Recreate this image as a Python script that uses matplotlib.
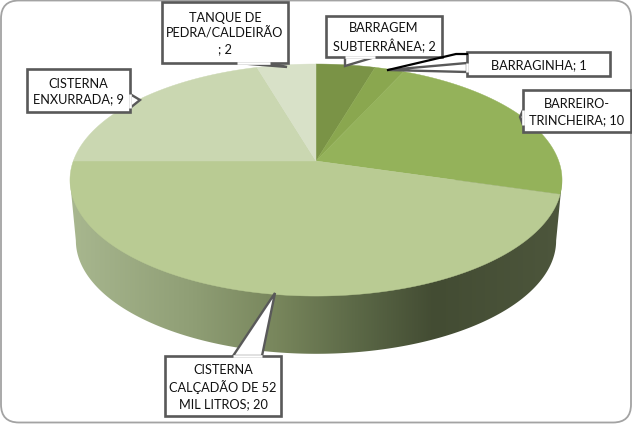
import numpy as np
import matplotlib
matplotlib.use("Agg")
import matplotlib.pyplot as plt
from matplotlib.patches import Polygon, FancyBboxPatch
from matplotlib.colors import LinearSegmentedColormap

categories = ["BARRAGEM\nSUBTERRÂNEA", "BARRAGINHA", "BARREIRO-\nTRINCHEIRA",
              "CISTERNA\nCALÇADÃO DE 52\nMIL LITROS", "CISTERNA\nENXURRADA",
              "TANQUE DE\nPEDRA/CALDEIRÃO\n"]
values = [2, 1, 10, 20, 9, 2]
colors = ["#7a9346", "#8aa74f", "#94b25a", "#b9cb93", "#cad7b1", "#d8e1c8"]
FONT = "Lato"
FS = 9.2

CX, CY = 316, 161
A, B, K = 112.9, 242.7, 0.164
S, LOWER = 0.976, 222


def project(t, scale=1.0, yc=CY):
    X, Y = np.sin(t), np.cos(t)
    w = 1 + K * Y
    return CX + B * scale * X / w, yc - A * scale * Y / w


fig = plt.figure(figsize=(6.32, 4.24), dpi=100)
ax = fig.add_axes([0, 0, 1, 1])
ax.set_xlim(0, 632)
ax.set_ylim(424, 0)
ax.axis("off")

border = FancyBboxPatch((1, 0.5), 630, 422, boxstyle="round,pad=0,rounding_size=18",
                        fc="white", ec="#a3a3a3", lw=1.3, zorder=0)
ax.add_patch(border)

# side wall
tt = np.linspace(0, 2 * np.pi, 721)
x_top, y_top = project(tt)
i_r, i_l = np.argmax(x_top), np.argmin(x_top)
x_low, y_low = project(tt, S, LOWER)
j_r, j_l = np.argmax(x_low), np.argmin(x_low)
rx = np.r_[x_top[i_r], x_low[j_r:j_l + 1], x_top[i_l]]
ry = np.r_[y_top[i_r], y_low[j_r:j_l + 1], y_top[i_l]]
wall = Polygon(np.c_[rx, ry], closed=True, fc="none", ec="none")
ax.add_patch(wall)
cmap = LinearSegmentedColormap.from_list(
    "wall", [(0, "#a8b78f"), (0.25, "#8f9e75"), (0.42, "#78865c"), (0.58, "#5c6947"),
             (0.74, "#434c33"), (1, "#4d563c")])
im = ax.imshow(np.linspace(0, 1, 256)[None, :], cmap=cmap, extent=(70, 562, 424, 0),
               aspect="auto", zorder=1)
im.set_clip_path(wall)
ax.set_xlim(0, 632)
ax.set_ylim(424, 0)

# top slices, clockwise from 12 o'clock
edges = np.r_[0, np.cumsum(values)] / np.sum(values) * 2 * np.pi
for a0, a1, c in zip(edges[:-1], edges[1:], colors):
    t = np.linspace(a0, a1, 200)
    px, py = project(t)
    ax.add_patch(Polygon(np.c_[np.r_[CX, px], np.r_[CY, py]], closed=True, fc=c, ec=c,
                         lw=0.3, zorder=2))

# callouts
boxes = [(326, 16, 442, 57), (467, 52, 610, 76), (523, 90, 631, 132),
         (165, 356, 281, 416), (27, 69, 130, 112), (162, 2, 288, 63)]
tails = [
    [(345, 57), (345, 66), (375, 57)],
    [(467, 63), (388, 70), (467, 72)],
    [(523, 110), (520, 117), (523, 125)],
    [(233, 356), (275, 293), (262, 356)],
    [(130, 94), (140, 100), (130, 108)],
    [(237, 63), (287, 67), (270, 63)],
]
for (x0, y0, x1, y1), tail, cat, v in zip(boxes, tails, categories, values):
    ax.add_patch(Polygon(tail, closed=True, fc="white", ec="#595959", lw=1.7, zorder=5, joinstyle="miter"))
    ax.add_patch(Polygon([(x0, y0), (x1, y0), (x1, y1), (x0, y1)], closed=True, fc="white",
                         ec="#595959", lw=1.9, zorder=6, joinstyle="miter"))
    (a, b), (c, d) = tail[0], tail[2]
    ax.plot([a, c], [b, d], color="white", lw=1.9, zorder=7, solid_capstyle="butt")
    label = f"{cat}; {v}"
    ax.text((x0 + x1) / 2, (y0 + y1) / 2 + 1, label, ha="center", va="center", fontsize=FS,
            family=FONT, color="#111111", linespacing=1.36, zorder=8)
ax.plot([388, 456, 467], [70, 54, 54], color="black", lw=1.6, zorder=7)

fig.savefig("out.png", dpi=100, facecolor="white")
